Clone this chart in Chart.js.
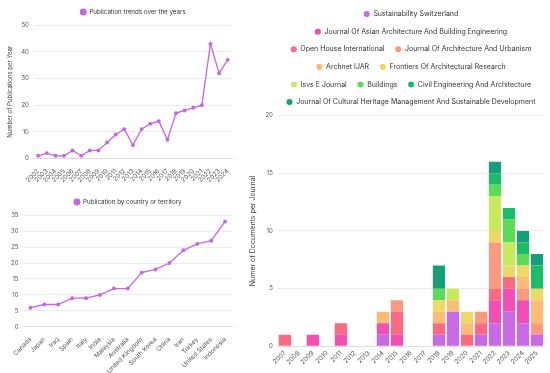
<!DOCTYPE html>
<html>
<head>
<meta charset="utf-8">
<script src="https://cdn.jsdelivr.net/npm/chart.js@4/dist/chart.umd.min.js"></script>
<style>
  html, body { margin: 0; padding: 0; background: #fff; }
  body { width: 550px; height: 373px; position: relative; overflow: hidden; }
  .box { position: absolute; }
  #b1 { left: 0; top: 0; width: 240px; height: 190px; }
  #b2 { left: 0; top: 190px; width: 240px; height: 186px; }
  #b3 { left: 245px; top: 0; width: 305px; height: 373px; }
</style>
</head>
<body>
<div class="box" id="b1"><canvas id="c1"></canvas></div>
<div class="box" id="b2"><canvas id="c2"></canvas></div>
<div class="box" id="b3"><canvas id="c3"></canvas></div>
<script>
const years = ['2002','2003','2004','2005','2006','2007','2008','2009','2010','2011','2012','2013','2014','2015','2016','2017','2018','2019','2020','2021','2022','2023','2024'];
const pubsPerYear = [1,2,1,1,3,1,3,3,6,9,11,5,11,13,14,7,17,18,19,20,43,32,37];

const countries = ['Canada','Japan','Iraq','Spain','Italy','India','Malaysia','Australia','United Kingdom','South Korea','China','Iran','Turkey','United States','Indonesia'];
const countryCounts = [6,7,7,9,9,10,12,12,17,18,20,24,26,27,33];

const journalYears = ['2007','2008','2009','2010','2011','2012','2013','2014','2015','2016','2017','2018','2019','2020','2021','2022','2023','2024','2025'];
const journalNames = ['Sustainability Switzerland','Journal Of Asian Architecture And Building Engineering','Open House International','Journal Of Architecture And Urbanism','Archnet IJAR','Frontiers Of Architectural Research','Isvs E Journal','Buildings','Civil Engineering And Architecture','Journal Of Cultural Heritage Management And Sustainable Development'];
const sustainabilitySwitzerland = [0,0,0,0,0,0,0,1,0,0,0,1,3,0,1,2,3,2,1];
const asianArchitecture         = [0,0,1,0,1,0,0,1,1,0,0,0,0,0,0,2,2,2,0];
const openHouse                 = [1,0,0,0,1,0,0,0,2,0,0,1,0,1,1,1,1,0,0];
const architectureUrbanism      = [0,0,0,0,0,0,0,0,1,0,0,0,0,0,1,4,0,1,1];
const archnetIJAR               = [0,0,0,0,0,0,0,1,0,0,0,1,1,1,0,0,0,1,2];
const frontiersArch             = [0,0,0,0,0,0,0,0,0,0,0,1,0,1,0,1,1,1,1];
const isvsEJournal              = [0,0,0,0,0,0,0,0,0,0,0,0,1,0,0,3,2,0,0];
const buildings                 = [0,0,0,0,0,0,0,0,0,0,0,1,0,0,0,1,2,1,0];
const civilEngineering          = [0,0,0,0,0,0,0,0,0,0,0,0,0,0,0,1,1,1,2];
const culturalHeritage          = [0,0,0,0,0,0,0,0,0,0,0,2,0,0,0,1,0,1,1];
const journalSeries = [sustainabilitySwitzerland, asianArchitecture, openHouse, architectureUrbanism, archnetIJAR, frontiersArch, isvsEJournal, buildings, civilEngineering, culturalHeritage];
const journalColors = ['#c86ae6','#f24fb4','#fb6a80','#fc9a80','#fdbb78','#ecd96a','#c6ea5c','#5bdb58','#1bbd6a','#169e7c'];

const PURPLE = '#c665e8';
const FONT = 'Inter, "DejaVu Sans", sans-serif';
Chart.defaults.font.family = FONT;
Chart.defaults.font.size = 6;
Chart.defaults.color = '#555';
Chart.defaults.animation = false;

const gridColor = '#ececec';

function legendOpts(pad, size, box) {
  return {
    position: 'top',
    fullSize: false,
    labels: {
      usePointStyle: true,
      pointStyle: 'circle',
      boxWidth: box + 2,
      boxHeight: box,
      padding: pad,
      color: '#333',
      font: { size: size, family: FONT }
    }
  };
}

new Chart(document.getElementById('c1'), {
  type: 'line',
  data: {
    labels: years,
    datasets: [{
      label: 'Publication trends over the years',
      data: pubsPerYear,
      borderColor: PURPLE,
      backgroundColor: PURPLE,
      pointBackgroundColor: PURPLE,
      pointBorderColor: PURPLE,
      borderWidth: 1.3,
      pointRadius: 1.3,
      tension: 0
    }]
  },
  options: {
    responsive: true,
    maintainAspectRatio: false,
    layout: { padding: { left: 7, right: 8, top: 0, bottom: 5 } },
    plugins: { legend: legendOpts(9, 6.2, 4), tooltip: { enabled: false } },
    scales: {
      x: {
        offset: true,
        grid: { display: false },
        border: { color: '#dcdcdc' },
        ticks: { minRotation: 45, maxRotation: 45, autoSkip: false, padding: 1, font: { size: 6.3 } }
      },
      y: {
        min: 0, max: 50,
        ticks: { stepSize: 10, padding: 5, font: { size: 6 } },
        grid: { color: gridColor, drawTicks: false },
        border: { display: false },
        title: { display: true, text: 'Number of Publications per Year', font: { size: 6 }, color: '#444', padding: { top: 0, bottom: 2 } }
      }
    }
  }
});

new Chart(document.getElementById('c2'), {
  type: 'line',
  data: {
    labels: countries,
    datasets: [{
      label: 'Publication by country or territory',
      data: countryCounts,
      borderColor: PURPLE,
      backgroundColor: PURPLE,
      pointBackgroundColor: PURPLE,
      pointBorderColor: PURPLE,
      borderWidth: 1.3,
      pointRadius: 1.3,
      tension: 0
    }]
  },
  options: {
    responsive: true,
    maintainAspectRatio: false,
    layout: { padding: { left: 6, right: 8, top: 0, bottom: 0 } },
    plugins: { legend: legendOpts(9, 6.2, 4), tooltip: { enabled: false } },
    scales: {
      x: {
        offset: true,
        grid: { display: false },
        border: { color: '#dcdcdc' },
        ticks: { minRotation: 45, maxRotation: 45, autoSkip: false, padding: 1, font: { size: 6.3 } }
      },
      y: {
        min: 0, max: 35,
        ticks: { stepSize: 5, padding: 5, font: { size: 6 } },
        grid: { color: gridColor, drawTicks: false },
        border: { display: false }
      }
    }
  }
});

new Chart(document.getElementById('c3'), {
  type: 'bar',
  data: {
    labels: journalYears,
    datasets: journalNames.map((name, i) => ({
      label: name,
      data: journalSeries[i],
      backgroundColor: journalColors[i],
      borderWidth: 0,
      categoryPercentage: 0.9,
      barPercentage: 0.97
    }))
  },
  options: {
    responsive: true,
    maintainAspectRatio: false,
    layout: { padding: { left: 4, right: 6, top: 0, bottom: 4 } },
    plugins: { legend: legendOpts(10.6, 7, 4.3), tooltip: { enabled: false } },
    scales: {
      x: {
        stacked: true,
        grid: { display: false, drawTicks: false },
        border: { color: '#dcdcdc' },
        ticks: { minRotation: 45, maxRotation: 45, autoSkip: false, padding: 3, font: { size: 6.4 } }
      },
      y: {
        stacked: true,
        min: 0, max: 20,
        ticks: { stepSize: 5, padding: 5, font: { size: 6 } },
        grid: { color: gridColor, drawTicks: false },
        border: { display: false },
        title: { display: true, text: 'Numer of Documents per Journal', font: { size: 7 }, color: '#444', padding: { top: 0, bottom: 3 } }
      }
    }
  }
});
</script>
</body>
</html>
